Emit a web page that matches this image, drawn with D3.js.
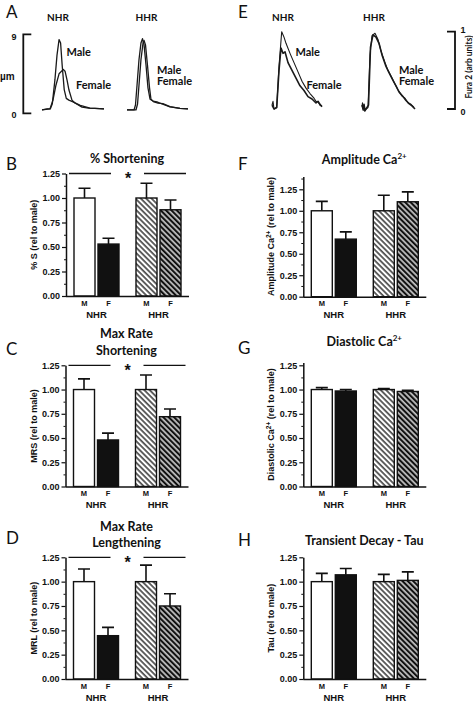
<!DOCTYPE html>
<html><head><meta charset="utf-8">
<script src="https://cdn.jsdelivr.net/npm/d3@7"></script>
<style>
html,body{margin:0;padding:0;background:#fff;}
svg{display:block;}
text{fill:#111;}
</style></head>
<body>
<div id="chart"></div>
<script>
// ---------------- DATA ----------------
const groups = ["NHR", "HHR"];
const sexes = ["M", "F"];
const yTicks = [0, 0.25, 0.5, 0.75, 1.0, 1.25];
const yMinorTicks = [0.125, 0.375, 0.625, 0.875, 1.125, 1.375];

// bar means (order: NHR-M, NHR-F, HHR-M, HHR-F), relative to male
const pctShortMean = [1.00, 0.53, 1.00, 0.88];
const pctShortSem  = [0.10, 0.06, 0.15, 0.10];
const mrsMean      = [1.00, 0.48, 1.00, 0.72];
const mrsSem       = [0.11, 0.07, 0.15, 0.08];
const mrlMean      = [1.00, 0.445, 1.00, 0.75];
const mrlSem       = [0.13, 0.085, 0.17, 0.125];
const ampMean      = [1.00, 0.67, 1.00, 1.105];
const ampSem       = [0.11, 0.085, 0.18, 0.115];
const diasMean     = [1.00, 0.985, 1.00, 0.98];
const diasSem      = [0.02, 0.015, 0.01, 0.012];
const tauMean      = [1.00, 1.07, 1.00, 1.013];
const tauSem       = [0.085, 0.065, 0.075, 0.087];

// sarcomere shortening traces (time ms, µm)
const shortNhrMaleT = [0, 50, 80, 100, 125, 145, 165, 180, 195, 215, 235, 260, 300, 370, 465, 600];
const shortNhrMaleV = [0.4, 0.5, 0.5, 1.1, 3.8, 6.6, 8.4, 8.0, 5.5, 2.7, 1.7, 1.5, 1.3, 0.9, 0.6, 0.5];
const shortNhrFemT  = [0, 77, 106, 135, 165, 206, 223, 242, 261, 290, 319, 387, 450, 513, 600];
const shortNhrFemV  = [0.4, 0.5, 1.5, 3.2, 4.5, 5.0, 4.8, 3.8, 2.65, 1.5, 1.17, 0.7, 0.6, 0.55, 0.5];
const shortHhrMaleT = [0, 68, 82, 97, 116, 135, 150, 165, 184, 203, 223, 252, 290, 339, 416, 513, 590];
const shortHhrMaleV = [0.38, 0.38, 0.95, 3.2, 6.1, 8.0, 8.5, 7.8, 5.5, 2.9, 1.6, 1.4, 1.3, 1.06, 0.72, 0.55, 0.5];
const shortHhrFemT  = [0, 87, 102, 116, 135, 155, 165, 179, 198, 218, 232, 261, 300, 348, 416, 513, 590];
const shortHhrFemV  = [0.38, 0.38, 1.06, 3.2, 6.1, 8.0, 8.3, 7.8, 5.5, 2.9, 1.6, 1.3, 1.17, 1.1, 0.77, 0.55, 0.5];

// Fura-2 calcium transients (time ms, arb units)
const caNhrMaleT = [0, 10, 20, 47, 70, 97, 120, 140, 180, 220, 260, 300, 340, 380, 420, 440, 460, 480, 500];
const caNhrMaleV = [0.05, 0.1, 0.0, 0.02, 0.55, 1.0, 0.93, 0.85, 0.72, 0.6, 0.48, 0.36, 0.27, 0.2, 0.14, 0.1, 0.09, 0.05, 0.04];
const caNhrFemT  = [0, 20, 47, 70, 90, 110, 130, 160, 200, 240, 280, 320, 360, 400, 440, 460, 480, 500];
const caNhrFemV  = [0.05, 0.0, 0.02, 0.5, 0.79, 0.72, 0.74, 0.6, 0.5, 0.4, 0.3, 0.24, 0.16, 0.13, 0.08, 0.1, 0.06, 0.03];
const caHhrMaleT = [0, 5, 12, 20, 28, 40, 60, 80, 100, 130, 160, 190, 230, 260, 300, 330, 360, 400, 430, 460, 490, 520];
const caHhrMaleV = [0.03, 0.08, -0.02, 0.05, -0.03, 0.0, 0.02, 0.7, 0.95, 0.98, 0.9, 0.75, 0.6, 0.5, 0.4, 0.32, 0.25, 0.17, 0.14, 0.08, 0.06, 0.02];
const caHhrFemT  = [0, 10, 20, 30, 45, 65, 85, 110, 140, 170, 200, 240, 270, 310, 340, 370, 410, 440, 470, 500, 530];
const caHhrFemV  = [0.05, 0.0, 0.06, -0.02, 0.01, 0.05, 0.8, 0.96, 0.93, 0.85, 0.7, 0.55, 0.47, 0.37, 0.3, 0.22, 0.16, 0.11, 0.07, 0.04, 0.0];

// ---------------- DRAW ----------------
const W = 473, H = 703;
const svg = d3.select("#chart").append("svg").attr("width", W).attr("height", H);
const INK = "#111";
const FB = "'Liberation Sans', Arial, sans-serif";
const FT = "Lato, 'Open Sans', sans-serif";

const defs = svg.append("defs");
function hatch(id, bg, fg) {
  const s = 3.8;
  const p = defs.append("pattern").attr("id", id).attr("patternUnits", "userSpaceOnUse")
    .attr("width", s).attr("height", s).attr("patternTransform", "rotate(-45)");
  p.append("rect").attr("width", s).attr("height", s).attr("fill", bg);
  p.append("line").attr("x1", 1).attr("x2", 1).attr("y1", 0).attr("y2", s)
    .attr("stroke", fg).attr("stroke-width", 1.3);
}
hatch("hatchW", "#fff", INK);
hatch("hatchB", INK, "#fff");
const fills = ["#fff", INK, "url(#hatchW)", "url(#hatchB)"];

function letter(t, x, y) {
  svg.append("text").attr("x", x).attr("y", y).attr("dy", "0.35em")
    .attr("font-family", FT).attr("font-size", 17).text(t);
}

const panels = [
  {L: "B", title: ["% Shortening"], ty: [159], ylab: "% S (rel to male)", mean: pctShortMean, sem: pctShortSem,
   ax: 66, y0: 296, y1: 173.5, yMax: 1.25, sig: true, ly: 164},
  {L: "C", title: ["Max Rate", "Shortening"], ty: [334, 351], ylab: "MRS (rel to male)", mean: mrsMean, sem: mrsSem,
   ax: 65.5, y0: 486.5, y1: 365.3, yMax: 1.25, sig: true, ly: 349},
  {L: "D", title: ["Max Rate", "Lengthening"], ty: [527, 543], ylab: "MRL (rel to male)", mean: mrlMean, sem: mrlSem,
   ax: 65.5, y0: 679, y1: 557.3, yMax: 1.25, sig: true, ly: 538},
  {L: "F", title: ["Amplitude Ca|2+"], ty: [160], ylab: "Amplitude Ca|2+| (rel to male)", mean: ampMean, sem: ampSem,
   ax: 303.3, y0: 296.7, y1: 189.3, yMax: 1.4, sig: false, ly: 164},
  {L: "G", title: ["Diastolic Ca|2+"], ty: [342], ylab: "Diastolic Ca|2+| (rel to male)", mean: diasMean, sem: diasSem,
   ax: 303.3, y0: 486.5, y1: 365.3, yMax: 1.28, sig: false, ly: 348},
  {L: "H", title: ["Transient Decay - Tau"], ty: [541], ylab: "Tau (rel to male)", mean: tauMean, sem: tauSem,
   ax: 303.3, y0: 679, y1: 557.3, yMax: 1.25, sig: false, ly: 540}
];

function richText(sel, str, supSize) {
  const parts = str.split("|");
  parts.forEach((s, i) => {
    if (!s) return;
    const t = sel.append("tspan").text(s);
    if (i % 2 === 1) { t.attr("font-size", supSize).attr("baseline-shift", "super"); }
  });
}

panels.forEach(P => {
  const g = svg.append("g");
  const ax = P.ax;
  const y = d3.scaleLinear().domain([0, P.yMax])
    .range([P.y0, P.y0 - (P.y0 - P.y1) * P.yMax / 1.25]);
  const xo = d3.scaleBand().domain(groups).range([ax, ax + 123]).paddingInner(0.274).paddingOuter(0.129);
  const xi = d3.scaleBand().domain(sexes).range([0, xo.bandwidth()]).paddingInner(0.125).paddingOuter(0);

  letter(P.L, P.L >= "E" ? 238 : 6, P.ly);

  // title
  P.title.forEach((t, i) => {
    const tx = g.append("text").attr("x", ax + 61).attr("y", P.ty[i]).attr("dy", "0.35em")
      .attr("text-anchor", "middle").attr("font-family", FT).attr("font-weight", 700).attr("font-size", 12.5);
    richText(tx, t, 8);
  });

  // y label
  const yl = g.append("text")
    .attr("transform", `translate(${ax - 32},${(P.y0 + y(P.yMax)) / 2}) rotate(-90)`)
    .attr("text-anchor", "middle").attr("dy", "0.35em")
    .attr("font-family", FB).attr("font-weight", 700).attr("font-size", 9);
  richText(yl, P.ylab, 6.5);

  // bars
  const data = [];
  groups.forEach((gr, gi) => sexes.forEach((s, si) => {
    const k = gi * 2 + si;
    data.push({gr, s, k, m: P.mean[k], e: P.sem[k]});
  }));
  const bw = xi.bandwidth();
  g.selectAll(".err").data(data).enter().append("path")
    .attr("d", d => {
      const cx = xo(d.gr) + xi(d.s) + bw / 2;
      return `M${cx},${y(d.m)}V${y(d.m + d.e)}M${cx - 6},${y(d.m + d.e)}H${cx + 6}`;
    })
    .attr("stroke", INK).attr("stroke-width", 1.6).attr("fill", "none");
  g.selectAll(".bar").data(data).enter().append("rect")
    .attr("x", d => xo(d.gr) + xi(d.s)).attr("width", bw)
    .attr("y", d => y(d.m)).attr("height", d => y(0) - y(d.m))
    .attr("fill", d => fills[d.k]).attr("stroke", INK).attr("stroke-width", 1.4);

  // y axis
  const yaxis = g.append("g").attr("transform", `translate(${ax},0)`)
    .call(d3.axisLeft(y).tickValues(yTicks).tickFormat(d3.format(".2f")).tickSize(4).tickSizeOuter(0).tickPadding(2));
  yaxis.selectAll("text").attr("font-family", FB).attr("font-weight", 700).attr("font-size", 9).attr("fill", INK);
  yaxis.selectAll("line").attr("stroke", INK).attr("stroke-width", 1.2);
  yaxis.select(".domain").attr("stroke", INK).attr("stroke-width", 1.5);
  const minor = g.append("g").attr("transform", `translate(${ax},0)`)
    .call(d3.axisLeft(y).tickValues(yMinorTicks.filter(v => v < P.yMax)).tickFormat("").tickSize(2).tickSizeOuter(0));
  minor.select(".domain").remove();
  minor.selectAll("line").attr("stroke", INK).attr("stroke-width", 1);

  // x axis with group labels
  const xaxis = g.append("g").attr("transform", `translate(0,${P.y0})`)
    .call(d3.axisBottom(xo).tickSize(0).tickSizeOuter(0).tickPadding(15));
  xaxis.select(".domain").attr("stroke", INK).attr("stroke-width", 1.5).attr("d", `M${ax},0.5H${ax + 123}`);
  xaxis.selectAll("text").attr("font-family", FB).attr("font-weight", 700).attr("font-size", 9.5).attr("fill", INK);
  g.selectAll(".sx").data(data).enter().append("text")
    .attr("x", d => xo(d.gr) + xi(d.s) + bw / 2).attr("y", P.y0 + 7).attr("dy", "0.35em")
    .attr("text-anchor", "middle").attr("font-family", FB).attr("font-weight", 700).attr("font-size", 7.5)
    .text(d => d.s);

  if (P.sig) {
    const sy = y(1.25);
    g.append("path").attr("d", `M${ax + 3},${sy}H${ax + 45}M${ax + 78},${sy}H${ax + 120}`)
      .attr("stroke", INK).attr("stroke-width", 1.3);
    g.append("text").attr("x", ax + 62).attr("y", sy + 10.5).attr("text-anchor", "middle")
      .attr("font-family", FB).attr("font-weight", 700).attr("font-size", 16).text("*");
  }
});

// ---------------- TRACES ----------------
letter("A", 6, 12);
letter("E", 238, 12);
function hdr(t, x) {
  svg.append("text").attr("x", x).attr("y", 17).attr("dy", "0.35em").attr("text-anchor", "middle")
    .attr("font-family", FT).attr("font-weight", 700).attr("font-size", 10).text(t);
}
hdr("NHR", 58); hdr("HHR", 146.5); hdr("NHR", 283); hdr("HHR", 374);

function lbl(t, x, yy) {
  svg.append("text").attr("x", x).attr("y", yy).attr("dy", "0.35em")
    .attr("font-family", FT).attr("font-weight", 700).attr("font-size", 11).text(t);
}

const yA = d3.scaleLinear().domain([0, 9]).range([113.3, 34.3]);
const yE = d3.scaleLinear().domain([0, 1]).range([109, 31.7]);
const xAn = d3.scaleLinear().domain([0, 600]).range([42, 104]);
const xAh = d3.scaleLinear().domain([0, 600]).range([127, 189]);
const xEn = d3.scaleLinear().domain([0, 500]).range([272, 322]);
const xEh = d3.scaleLinear().domain([0, 530]).range([362, 415]);

function trace(T, V, xs, ys, w) {
  const pts = T.map((t, i) => [t, V[i]]);
  svg.append("path").datum(pts)
    .attr("d", d3.line().x(d => xs(d[0])).y(d => ys(d[1])))
    .attr("fill", "none").attr("stroke", "#1a1a1a").attr("stroke-width", w || 1.3)
    .attr("stroke-linejoin", "round");
}
trace(shortNhrMaleT, shortNhrMaleV, xAn, yA);
trace(shortNhrFemT, shortNhrFemV, xAn, yA);
trace(shortHhrMaleT, shortHhrMaleV, xAh, yA);
trace(shortHhrFemT, shortHhrFemV, xAh, yA);
trace(caNhrMaleT, caNhrMaleV, xEn, yE, 1.1);
trace(caNhrFemT, caNhrFemV, xEn, yE, 1.6);
trace(caHhrMaleT, caHhrMaleV, xEh, yE, 1.1);
trace(caHhrFemT, caHhrFemV, xEh, yE, 1.6);

lbl("Male", 66.5, 52.5); lbl("Female", 76, 85);
lbl("Male", 157, 70); lbl("Female", 157, 81.5);
lbl("Male", 295.5, 52); lbl("Female", 306.5, 85);
lbl("Male", 399, 70); lbl("Female", 399, 81.5);

// scale bars
const sbA = svg.append("g");
const sbAx = 23.3;
sbA.append("path").attr("d", `M${sbAx + 8},${yA(9)}H${sbAx}V${yA(0)}H${sbAx + 8}`)
  .attr("fill", "none").attr("stroke", INK).attr("stroke-width", 1.8);
sbA.append("text").attr("x", 14).attr("y", yA(9) + 3).attr("dy", "0.35em").attr("text-anchor", "middle")
  .attr("font-family", FB).attr("font-weight", 700).attr("font-size", 9).text("9");
sbA.append("text").attr("x", 14).attr("y", yA(0) + 2).attr("dy", "0.35em").attr("text-anchor", "middle")
  .attr("font-family", FB).attr("font-weight", 700).attr("font-size", 9).text("0");
sbA.append("text").attr("x", 0).attr("y", 76).attr("dy", "0.35em")
  .attr("font-family", FB).attr("font-weight", 700).attr("font-size", 10).text("µm");

const sbE = svg.append("g");
const sbEx = 455;
sbE.append("path").attr("d", `M${sbEx - 8},${yE(1)}H${sbEx}V${yE(0)}H${sbEx - 8}`)
  .attr("fill", "none").attr("stroke", INK).attr("stroke-width", 1.8);
sbE.append("text").attr("x", 463).attr("y", yE(1) - 2).attr("dy", "0.35em").attr("text-anchor", "middle")
  .attr("font-family", FB).attr("font-weight", 700).attr("font-size", 9).text("1");
sbE.append("text").attr("x", 463).attr("y", yE(0) + 3).attr("dy", "0.35em").attr("text-anchor", "middle")
  .attr("font-family", FB).attr("font-weight", 700).attr("font-size", 9).text("0");
sbE.append("text").attr("transform", `translate(469,67) rotate(-90)`).attr("text-anchor", "middle")
  .attr("dy", "0.35em").attr("font-family", FT).attr("font-weight", 700).attr("font-size", 8.5)
  .text("Fura 2 (arb units)");
</script>
</body></html>
